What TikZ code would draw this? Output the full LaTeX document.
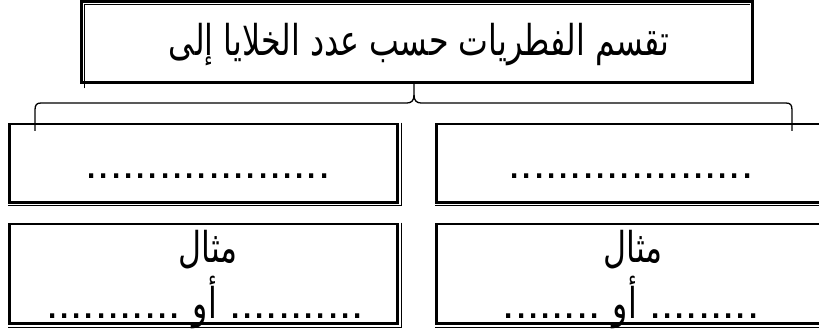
\documentclass[tikz,border=0pt]{standalone}
\usepackage{graphicx}
\usepackage{fontspec}
\newfontfamily\arabicfont[Script=Arabic]{DejaVu Sans}
\newfontfamily\dotfont{Liberation Sans}
\TeXXeTstate=1
\newcommand\ArBig{\arabicfont\fontsize{36}{40}\selectfont}
\newcommand\ArTxt[1]{\scalebox{0.88}[1.18]{\ArBig\beginR #1\endR}}
\newcommand\DotBig{\dotfont\fontsize{44}{48}\selectfont}
\begin{document}
\begin{tikzpicture}[x=1pt,y=-1pt,
  framebox/.style={draw, line width=2.7pt, inner sep=0pt, outer sep=0pt},
  thinrule/.style={line width=1pt},
  bracerule/.style={line width=1.3pt},
  txt/.style={inner sep=0pt, anchor=base}]
\path[use as bounding box] (0,0) rectangle (819,331);
\clip (0,0) rectangle (819,331);
% title box
\node[framebox, minimum width=670.6pt, minimum height=80.7pt] (title) at (417,42.15) {};
\draw[thinrule] ([xshift=3pt,yshift=-6pt]title.south west) -- ([xshift=3pt,yshift=-3pt]title.north west) -- ([xshift=-2pt,yshift=-3pt]title.north east);
\node[txt] (titletext) at (419,56) {\ArTxt{تقسم الفطريات حسب عدد الخلايا إلى}};
% boxes
\node[framebox, minimum width=388.2pt, minimum height=78.3pt] (l1) at (203.6,163.15) {};
\node[framebox, minimum width=389pt, minimum height=78.3pt] (r1) at (631.3,163.15) {};
\node[framebox, minimum width=388.2pt, minimum height=99.8pt] (l2) at (203.6,273.9) {};
\node[framebox, minimum width=389pt, minimum height=99.8pt] (r2) at (631.3,273.9) {};
\foreach \b in {l1,r1,l2,r2}{
  \draw[thinrule] ([xshift=3.3pt,yshift=1.35pt]\b.north east) -- ([xshift=3.3pt,yshift=-3.5pt]\b.south east) -- ([xshift=-1.35pt,yshift=-3.5pt]\b.south west);
}
% brace
\coordinate (tip) at (414,95);
\coordinate (bleft) at (35,131);
\coordinate (bright) at (792,131);
\draw[bracerule] (bleft) -- (35,110) .. controls (35,105) and (36.5,103) .. (41,103) -- (407,103) .. controls (411.5,103) and (414,100.5) .. (tip) -- (tip |- title.south);
\draw[bracerule] (bright) -- (792,110) .. controls (792,105) and (790.5,103) .. (786,103) -- (421,103) .. controls (416.5,103) and (414,100.5) .. (tip);
% texts
\node[txt] (l1dots) at (208,179) {\DotBig ....................};
\node[txt] (r1dots) at (631,179) {\DotBig ....................};
\node[txt] (l2ex) at (208,262) {\ArTxt{مثال}};
\node[txt] (r2ex) at (633,262) {\ArTxt{مثال}};
\node[txt] (l2dots) at (205,318) {\DotBig ...........\ \ArTxt{أو}\ ...........};
\node[txt] (r2dots) at (631,318) {\DotBig ........\ \ArTxt{أو}\ .........};
\end{tikzpicture}
\end{document}
